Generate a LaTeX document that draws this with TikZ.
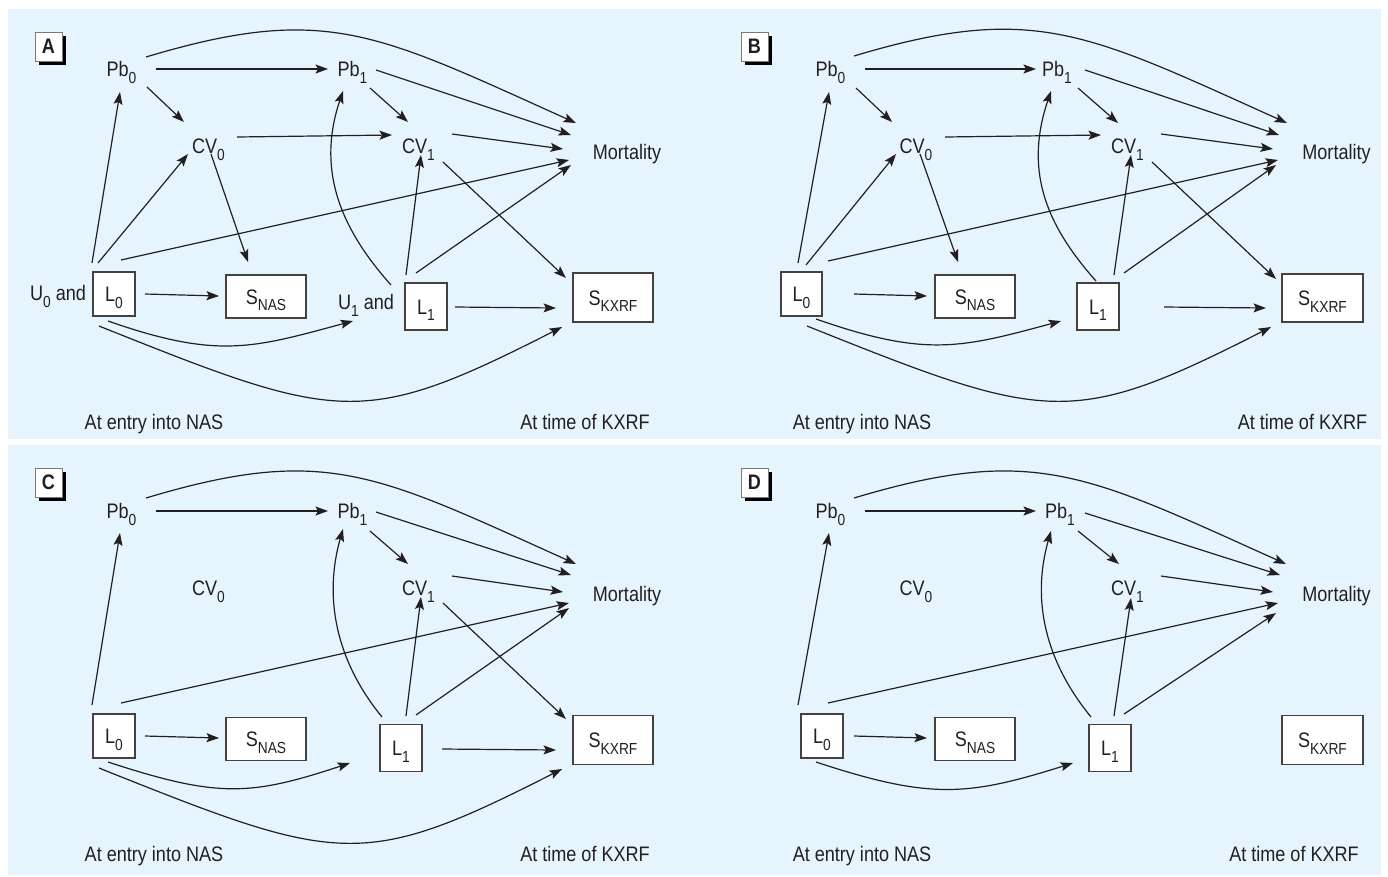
\documentclass[tikz,border=0pt]{standalone}
\usepackage{fontspec}
\setmainfont{Liberation Sans}[FakeStretch=0.86]
\usetikzlibrary{arrows.meta,shadows}
\definecolor{bgblue}{RGB}{230,245,253}
\definecolor{ink}{RGB}{35,31,32}
\newcommand\sbs[1]{\raisebox{-6.5pt}{\fontsize{16}{16}\selectfont #1}}
\begin{document}
\begin{tikzpicture}[x=1pt,y=-1pt,
  lbl/.style={inner sep=0pt, text height=15pt, text depth=0pt, anchor=center,
    font=\fontsize{21}{23}\selectfont, text=ink},
  bx/.style={draw=ink!85, line width=1.1pt, fill=white, inner sep=0pt,
    text height=15pt, text depth=0pt, font=\fontsize{21}{23}\selectfont, text=ink},
  labbox/.style={draw=ink!60, line width=0.7pt, fill=white, inner sep=0pt,
    minimum width=27pt, minimum height=29pt, text=ink,
    font=\bfseries\fontsize{21}{21}\selectfont,
    general shadow={fill=black, draw=none, shadow xshift=3.5pt, shadow yshift=-3.5pt}},
  arr/.style={draw=ink, line width=1.2pt, -{Stealth[length=12.5pt,width=9pt,inset=2.5pt]}}]
\useasboundingbox (0,0) rectangle (1388,876);
\fill[white] (0,0) rectangle (1388,876);
\fill[bgblue] (8,9) rectangle (1381,439);
\fill[bgblue] (8,445) rectangle (1381,875);

% ---------------- Panel A ----------------
\node[labbox] (a-lab) at (48.5,46.5) {A};
\node[lbl] (a-pb0) at (121.5,69) {Pb\sbs{0}};
\node[lbl] (a-pb1) at (352.5,69) {Pb\sbs{1}};
\node[lbl] (a-cv0) at (208.5,146) {CV\sbs{0}};
\node[lbl] (a-cv1) at (418.5,146) {CV\sbs{1}};
\node[lbl] (a-mort) at (627,152) {Mortality};
\node[lbl] (a-u0) at (58,293) {U\sbs{0} and};
\node[lbl] (a-u1) at (366,302) {U\sbs{1} and};
\node[bx, minimum width=42pt, minimum height=44pt] (a-L0) at (114,294) {L\sbs{0}};
\node[bx, minimum width=80pt, minimum height=43pt] (a-snas) at (266,296.5) {S\sbs{NAS}};
\node[bx, minimum width=42pt, minimum height=47pt] (a-L1) at (426,306.5) {L\sbs{1}};
\node[bx, minimum width=80pt, minimum height=49pt] (a-skx) at (613,297.5) {S\sbs{KXRF}};
\node[lbl] (a-entry) at (154,422) {At entry into NAS};
\node[lbl] (a-time) at (585,422) {At time of KXRF};

\draw[arr] ([shift={(34.5,0)}]a-pb0.center) -- ([shift={(-24.5,0)}]a-pb1.center);
\draw[arr] ([shift={(24.5,-12)}]a-pb0.center) .. controls +(180,-54) and +(-200,-90) .. ([shift={(-51,-29)}]a-mort.center);
\draw[arr] ([shift={(23.5,1)}]a-pb1.center) -- ([shift={(-56,-17)}]a-mort.center);
\draw[arr] ([shift={(25.5,18)}]a-pb0.center) -- ([shift={(-24.5,-24)}]a-cv0.center);
\draw[arr] ([shift={(17.5,19)}]a-pb1.center) -- ([shift={(-10.5,-24)}]a-cv1.center);
\draw[arr] ([shift={(28.5,-9)}]a-cv0.center) -- ([shift={(-26.5,-11)}]a-cv1.center);
\draw[arr] ([shift={(33.5,-12)}]a-cv1.center) -- ([shift={(-64,-3)}]a-mort.center);
\draw[arr] ([shift={(24.5,16)}]a-cv1.center) -- ([shift={(-47,-19.5)}]a-skx.center);
\draw[arr] ([shift={(2.5,8)}]a-cv0.center) -- ([shift={(-18,-34.5)}]a-snas.center);
\draw[arr] ([shift={(-22,-31)}]a-L0.center) -- ([shift={(-1.5,23)}]a-pb0.center);
\draw[arr] ([shift={(-16,-31)}]a-L0.center) -- ([shift={(-20.5,8)}]a-cv0.center);
\draw[arr] ([shift={(7,-34)}]a-L0.center) -- ([shift={(-58,8)}]a-mort.center);
\draw[arr] ([shift={(31,0)}]a-L0.center) -- ([shift={(-47,-0.5)}]a-snas.center);
\draw[arr] ([shift={(-6,27)}]a-L0.center) .. controls +(110,38.5) and +(-100,27) .. ([shift={(-13,19)}]a-u1.center);
\draw[arr] ([shift={(-15,32)}]a-L0.center) .. controls +(240,96) and +(-200,102) .. ([shift={(-51,29.5)}]a-skx.center);
\draw[arr] ([shift={(-35,-21.5)}]a-L1.center) .. controls +(-53.6,-60) and +(-25.6,76) .. ([shift={(-9.5,22)}]a-pb1.center);
\draw[arr] ([shift={(-20,-31.5)}]a-L1.center) -- ([shift={(2.5,9)}]a-cv1.center);
\draw[arr] ([shift={(-10,-33.5)}]a-L1.center) -- ([shift={(-56,13)}]a-mort.center);
\draw[arr] ([shift={(29,0.5)}]a-L1.center) -- ([shift={(-57,10.5)}]a-skx.center);

% ---------------- Panel B ----------------
\node[labbox] (b-lab) at (754.5,46.5) {B};
\node[lbl] (b-pb0) at (830.5,69) {Pb\sbs{0}};
\node[lbl] (b-pb1) at (1057,69) {Pb\sbs{1}};
\node[lbl] (b-cv0) at (916,146) {CV\sbs{0}};
\node[lbl] (b-cv1) at (1127.5,146) {CV\sbs{1}};
\node[lbl] (b-mort) at (1336.5,152) {Mortality};
\node[bx, minimum width=41pt, minimum height=44pt] (b-L0) at (801.5,294) {L\sbs{0}};
\node[bx, minimum width=80pt, minimum height=43pt] (b-snas) at (975,296.5) {S\sbs{NAS}};
\node[bx, minimum width=42pt, minimum height=47pt] (b-L1) at (1098,306.5) {L\sbs{1}};
\node[bx, minimum width=81pt, minimum height=48pt] (b-skx) at (1322.5,298) {S\sbs{KXRF}};
\node[lbl] (b-entry) at (862,422) {At entry into NAS};
\node[lbl] (b-time) at (1302.5,422) {At time of KXRF};

\draw[arr] ([shift={(34.5,0)}]b-pb0.center) -- ([shift={(-21,0)}]b-pb1.center);
\draw[arr] ([shift={(23.5,-13)}]b-pb0.center) .. controls +(180,-54) and +(-200,-90) .. ([shift={(-49.5,-29)}]b-mort.center);
\draw[arr] ([shift={(28,1)}]b-pb1.center) -- ([shift={(-57.5,-17)}]b-mort.center);
\draw[arr] ([shift={(25.5,19)}]b-pb0.center) -- ([shift={(-24,-24)}]b-cv0.center);
\draw[arr] ([shift={(21,19)}]b-pb1.center) -- ([shift={(-9.5,-23)}]b-cv1.center);
\draw[arr] ([shift={(29,-9)}]b-cv0.center) -- ([shift={(-26.5,-11)}]b-cv1.center);
\draw[arr] ([shift={(33.5,-12)}]b-cv1.center) -- ([shift={(-63.5,-3)}]b-mort.center);
\draw[arr] ([shift={(24.5,16)}]b-cv1.center) -- ([shift={(-46.5,-19)}]b-skx.center);
\draw[arr] ([shift={(4,8)}]b-cv0.center) -- ([shift={(-17,-34.5)}]b-snas.center);
\draw[arr] ([shift={(-3.5,-31)}]b-L0.center) -- ([shift={(-1.5,23)}]b-pb0.center);
\draw[arr] ([shift={(4.5,-29)}]b-L0.center) -- ([shift={(-20,8)}]b-cv0.center);
\draw[arr] ([shift={(26.5,-33)}]b-L0.center) -- ([shift={(-58.5,8)}]b-mort.center);
\draw[arr] ([shift={(52.5,0)}]b-L0.center) -- ([shift={(-48,-0.5)}]b-snas.center);
\draw[arr] ([shift={(14.5,25)}]b-L0.center) .. controls +(110,38.5) and +(-100,27) .. ([shift={(-37,14.5)}]b-L1.center);
\draw[arr] ([shift={(5.5,32)}]b-L0.center) .. controls +(240,96) and +(-200,102) .. ([shift={(-51.5,29)}]b-skx.center);
\draw[arr] ([shift={(-2,-25.5)}]b-L1.center) .. controls +(-53.6,-60) and +(-25.6,76) .. ([shift={(-6,22)}]b-pb1.center);
\draw[arr] ([shift={(16,-31.5)}]b-L1.center) -- ([shift={(3.5,9)}]b-cv1.center);
\draw[arr] ([shift={(26,-33.5)}]b-L1.center) -- ([shift={(-60.5,13)}]b-mort.center);
\draw[arr] ([shift={(66,0.5)}]b-L1.center) -- ([shift={(-56.5,10)}]b-skx.center);

% ---------------- Panel C ----------------
\node[labbox] (c-lab) at (48.5,482.5) {C};
\node[lbl] (c-pb0) at (121.5,511) {Pb\sbs{0}};
\node[lbl] (c-pb1) at (352.5,511) {Pb\sbs{1}};
\node[lbl] (c-cv0) at (208.5,588) {CV\sbs{0}};
\node[lbl] (c-cv1) at (418.5,588) {CV\sbs{1}};
\node[lbl] (c-mort) at (627,594) {Mortality};
\node[bx, minimum width=42pt, minimum height=44pt] (c-L0) at (114,736) {L\sbs{0}};
\node[bx, minimum width=80pt, minimum height=43pt] (c-snas) at (266,739) {S\sbs{NAS}};
\node[bx, minimum width=42pt, minimum height=47pt] (c-L1) at (401,748) {L\sbs{1}};
\node[bx, minimum width=80pt, minimum height=49pt] (c-skx) at (613,740) {S\sbs{KXRF}};
\node[lbl] (c-entry) at (154,854) {At entry into NAS};
\node[lbl] (c-time) at (585,854) {At time of KXRF};

\draw[arr] ([shift={(34.5,0)}]c-pb0.center) -- ([shift={(-24.5,0)}]c-pb1.center);
\draw[arr] ([shift={(24.5,-13)}]c-pb0.center) .. controls +(180,-54) and +(-200,-90) .. ([shift={(-51,-30)}]c-mort.center);
\draw[arr] ([shift={(23.5,1)}]c-pb1.center) -- ([shift={(-56,-19)}]c-mort.center);
\draw[arr] ([shift={(17.5,20)}]c-pb1.center) -- ([shift={(-10.5,-24)}]c-cv1.center);
\draw[arr] ([shift={(33.5,-12)}]c-cv1.center) -- ([shift={(-64,-2)}]c-mort.center);
\draw[arr] ([shift={(24.5,15)}]c-cv1.center) -- ([shift={(-47,-21)}]c-skx.center);
\draw[arr] ([shift={(-22,-31)}]c-L0.center) -- ([shift={(-1.5,22)}]c-pb0.center);
\draw[arr] ([shift={(7,-33)}]c-L0.center) -- ([shift={(-58,9)}]c-mort.center);
\draw[arr] ([shift={(31,0)}]c-L0.center) -- ([shift={(-47,-1)}]c-snas.center);
\draw[arr] ([shift={(-6,26)}]c-L0.center) .. controls +(110,36) and +(-100,33) .. ([shift={(-51,15)}]c-L1.center);
\draw[arr] ([shift={(-15,32)}]c-L0.center) .. controls +(240,96) and +(-200,102) .. ([shift={(-51,29)}]c-skx.center);
\draw[arr] ([shift={(-19,-31)}]c-L1.center) .. controls +(-45,-55) and +(-20,70) .. ([shift={(-9.5,18)}]c-pb1.center);
\draw[arr] ([shift={(5,-32)}]c-L1.center) -- ([shift={(2.5,9)}]c-cv1.center);
\draw[arr] ([shift={(15,-33)}]c-L1.center) -- ([shift={(-58,14)}]c-mort.center);
\draw[arr] ([shift={(41,1)}]c-L1.center) -- ([shift={(-57,10)}]c-skx.center);

% ---------------- Panel D ----------------
\node[labbox] (d-lab) at (754.5,482.5) {D};
\node[lbl] (d-pb0) at (830.5,511) {Pb\sbs{0}};
\node[lbl] (d-pb1) at (1060,511) {Pb\sbs{1}};
\node[lbl] (d-cv0) at (916,588) {CV\sbs{0}};
\node[lbl] (d-cv1) at (1127.5,588) {CV\sbs{1}};
\node[lbl] (d-mort) at (1336.5,594) {Mortality};
\node[bx, minimum width=42pt, minimum height=44pt] (d-L0) at (822,736) {L\sbs{0}};
\node[bx, minimum width=80pt, minimum height=43pt] (d-snas) at (975,739) {S\sbs{NAS}};
\node[bx, minimum width=42pt, minimum height=47pt] (d-L1) at (1110,748) {L\sbs{1}};
\node[bx, minimum width=81pt, minimum height=49pt] (d-skx) at (1322.5,740) {S\sbs{KXRF}};
\node[lbl] (d-entry) at (862,854) {At entry into NAS};
\node[lbl] (d-time) at (1294,854) {At time of KXRF};

\draw[arr] ([shift={(34.5,0)}]d-pb0.center) -- ([shift={(-24,0)}]d-pb1.center);
\draw[arr] ([shift={(23.5,-13)}]d-pb0.center) .. controls +(180,-54) and +(-200,-90) .. ([shift={(-50.5,-30)}]d-mort.center);
\draw[arr] ([shift={(25,2)}]d-pb1.center) -- ([shift={(-56.5,-19)}]d-mort.center);
\draw[arr] ([shift={(18,20)}]d-pb1.center) -- ([shift={(-8.5,-24)}]d-cv1.center);
\draw[arr] ([shift={(33.5,-12)}]d-cv1.center) -- ([shift={(-63.5,-2)}]d-mort.center);
\draw[arr] ([shift={(-24,-31)}]d-L0.center) -- ([shift={(-1.5,22)}]d-pb0.center);
\draw[arr] ([shift={(6,-33)}]d-L0.center) -- ([shift={(-58.5,9)}]d-mort.center);
\draw[arr] ([shift={(32,0)}]d-L0.center) -- ([shift={(-48,-1)}]d-snas.center);
\draw[arr] ([shift={(-6,26)}]d-L0.center) .. controls +(115,38) and +(-105,33) .. ([shift={(-37,15)}]d-L1.center);
\draw[arr] ([shift={(-19,-31)}]d-L1.center) .. controls +(-45,-55) and +(-20,70) .. ([shift={(-9,20)}]d-pb1.center);
\draw[arr] ([shift={(4,-32)}]d-L1.center) -- ([shift={(3.5,10)}]d-cv1.center);
\draw[arr] ([shift={(14,-34)}]d-L1.center) -- ([shift={(-60.5,19)}]d-mort.center);
\end{tikzpicture}
\end{document}
